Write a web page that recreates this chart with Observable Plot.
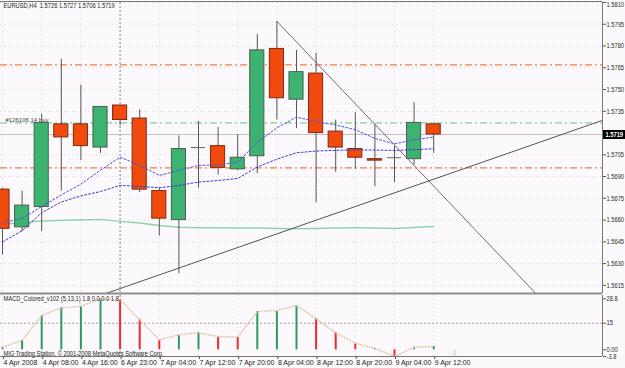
<!DOCTYPE html>
<html><head><meta charset="utf-8">
<script src="https://cdn.jsdelivr.net/npm/d3@7"></script>
<script src="https://cdn.jsdelivr.net/npm/@observablehq/plot@0.6"></script>
<style>
html,body{margin:0;padding:0;background:#fcf9fc;}
#chart{position:relative;width:625px;height:368px;overflow:hidden;background:#fcf9fc;}
#main,#macd{position:absolute;left:0;}
#main{top:0}
#macd{top:293px}
svg{display:block;overflow:visible}
</style></head>
<body><div id="chart"><div id="main"></div><div id="macd"></div></div>
<script>
// ---------- data ----------
const symbol = "EURUSD,H4";
const labelBars = [0, 2, 4, 6, 8, 10, 12, 14, 16, 18, 20, 22];
const timeLabels = ["4 Apr 2008", "4 Apr 08:00", "4 Apr 16:00", "6 Apr 23:00", "7 Apr 04:00", "7 Apr 12:00",
                    "7 Apr 20:00", "8 Apr 04:00", "8 Apr 12:00", "8 Apr 20:00", "9 Apr 04:00", "9 Apr 12:00"];
const open  = [1.5681,1.5655,1.5669,1.5726,1.5726,1.5710,1.5739,1.5730,1.5680,1.5660,1.5710,1.5711,1.5695,1.5704,1.5778,1.5743,1.5761,1.5721,1.5709,1.5702,1.5703,1.5702,1.5726];
const high  = [1.5682,1.5680,1.5733,1.5771,1.5753,1.5738,1.5739,1.5736,1.5682,1.5718,1.5728,1.5724,1.5719,1.5788,1.5797,1.5777,1.5775,1.5729,1.5734,1.5726,1.5711,1.5741,1.5727];
const low   = [1.5636,1.5652,1.5652,1.5680,1.5701,1.5706,1.5725,1.5679,1.5649,1.5623,1.5682,1.5691,1.5694,1.5692,1.5729,1.5723,1.5672,1.5693,1.5695,1.5683,1.5686,1.5698,1.5706];
const close = [1.5654,1.5670,1.5727,1.5717,1.5711,1.5738,1.5729,1.5681,1.5661,1.5709,1.5710,1.5696,1.5703,1.5777,1.5744,1.5762,1.5720,1.5710,1.5703,1.5701,1.5703,1.5727,1.5719];
const maFast = [1.56582,1.56611,1.56694,1.56773,1.56848,1.56944,1.57034,1.56977,1.56908,1.56942,1.56977,1.56980,1.56999,1.57136,1.57236,1.57310,1.57278,1.57256,1.57223,1.57163,1.57126,1.57154,1.57172];
const maMid  = [1.56449,1.56527,1.56651,1.56725,1.56767,1.56797,1.56839,1.56832,1.56823,1.56839,1.56862,1.56873,1.56887,1.56966,1.57020,1.57064,1.57076,1.57081,1.57084,1.57083,1.57080,1.57085,1.57092];
const maSlow = [1.56570,1.56584,1.56594,1.56598,1.56601,1.56605,1.56591,1.56580,1.56563,1.56551,1.56547,1.56547,1.56546,1.56546,1.56542,1.56540,1.56542,1.56546,1.56547,1.56546,1.56542,1.56549,1.56556];
const macd   = [1.5,5.3,19.4,23.7,24.6,28.8,28.3,17.0,5.6,8.5,9.6,7.5,7.1,21.6,22.2,25.0,17.5,9.6,3.7,0.8,-3.8,1.5,1.8];
const priceTicks = [1.5810,1.5795,1.5780,1.5765,1.5750,1.5735,1.5705,1.5690,1.5675,1.5660,1.5645,1.5630,1.5615];
const priceDomain = [1.56094, 1.5810];
const barDomain = [-0.102, 30.612];
const macdDomain = [-3.78, 30.66];
const macdTicks = [28.8, 15, 0, -3.8];
const macdTickLabels = ["28.8", "15", "0.00", "-3.8"];
const macdLevel = [15];
const orangeLevels = [1.5767, 1.5696];
const buyLevel = 1.5727;
const buyLabel = "#126106 14 buy";
const separatorBar = [6];
const trendDown = [{bar: 14, price: 1.5797}, {bar: 28, price: 1.55982}];
const trendUp = [{bar: 5, price: 1.56081}, {bar: 31, price: 1.57306}];
const macdTitle = "MACD_Colored_v102 (5,13,1) 1.8 0.0 0.0 1.8";
const copyright = "MIG Trading Station, \u00a9 2001-2008 MetaQuotes Software Corp.";
const ghostLabel = [{bar: 23, value: -1.5, text: "-3"}];

// ---------- build ----------
const FONT = "'Liberation Sans', Arial, sans-serif";
const n = open.length;
const last = n - 1;
const candles = d3.range(n).map(i => ({i, o: open[i], h: high[i], l: low[i], c: close[i]}));
const bodies = candles.filter(d => d.o !== d.c);
const dojis = candles.filter(d => d.o === d.c);
const HW = 0.36;
const ma = (arr) => arr.map((v, i) => ({i, v}));
const title = `${symbol}  ${[open[last], high[last], low[last], close[last]].map(v => v.toFixed(4)).join(" ")}`;
const pxPerBar = 602 / (barDomain[1] - barDomain[0]);
const dashDot = "7,3,2,3";

const main = Plot.plot({
  width: 625, height: 295,
  marginLeft: 0, marginRight: 23, marginTop: 2, marginBottom: 2,
  style: {background: "none", fontFamily: FONT, fontSize: "7px", color: "#2a2a2a"},
  x: {domain: barDomain, axis: null},
  y: {domain: priceDomain, axis: null},
  marks: [
    Plot.gridY(priceTicks, {stroke: "#dcd2dc", strokeOpacity: 1, strokeDasharray: "1,3"}),
    Plot.gridX(labelBars, {stroke: "#dcd2dc", strokeOpacity: 1, strokeDasharray: "1,3"}),
    Plot.ruleY(orangeLevels, {stroke: "#fa7a48", strokeDasharray: dashDot, strokeWidth: 1.2}),
    Plot.ruleY([buyLevel], {stroke: "#a6dbb4", strokeDasharray: dashDot, strokeWidth: 1.6}),
    Plot.ruleY([close[last]], {stroke: "#c4c0c4"}),
    Plot.ruleX(separatorBar, {stroke: "#a8a8a8", strokeDasharray: "2,2", strokeWidth: 1.5}),
    Plot.line(ma(maSlow), {x: "i", y: "v", stroke: "#8ed3a8", strokeWidth: 1.4}),
    Plot.ruleX(candles, {x: "i", y1: "l", y2: "h", stroke: "#555", clip: true}),
    Plot.rect(bodies, {x1: d => d.i - HW, x2: d => d.i + HW, y1: "o", y2: "c",
      fill: d => d.c > d.o ? "#3cb371" : "#f04a0e",
      stroke: d => d.c > d.o ? "#4b5e50" : "#7e2a10", strokeWidth: 1, clip: true}),
    Plot.ruleY(dojis, {y: "o", x1: d => d.i - HW, x2: d => d.i + HW, stroke: "#666"}),
    Plot.line(ma(maFast), {x: "i", y: "v", stroke: "#5050e0", strokeDasharray: "2,2", strokeWidth: 1}),
    Plot.line(ma(maMid), {x: "i", y: "v", stroke: "#3a3ad8", strokeDasharray: "2,2", strokeWidth: 1}),
    Plot.line(trendDown, {x: "bar", y: "price", stroke: "#6e6e6e", strokeWidth: 1, clip: true}),
    Plot.line(trendUp, {x: "bar", y: "price", stroke: "#555", strokeWidth: 1, clip: true}),
    Plot.text([buyLabel], {y: buyLevel, frameAnchor: "left", textAnchor: "start", lineAnchor: "bottom",
      dx: 5, dy: -1, fontSize: 6, fill: "#444"}),
    Plot.text([title], {frameAnchor: "top-left", textAnchor: "start", lineAnchor: "top", dx: 3, dy: 1,
      fontSize: 7, fill: "#1e1e1e"}),
    Plot.axisY(priceTicks, {anchor: "right", tickSize: 3, tickPadding: 1, tickFormat: d => d.toFixed(4),
      fontSize: 7, stroke: "#555", fill: "#2a2a2a"}),
    Plot.ruleY([close[last]], {x1: barDomain[1], x2: barDomain[1] + 23 / pxPerBar, stroke: "#000", strokeWidth: 9}),
    Plot.text([close[last]], {y: d => d, frameAnchor: "right", textAnchor: "start", dx: 3,
      text: d => d.toFixed(4), fill: "#fff", fontSize: 7, fontWeight: "bold"}),
    Plot.ruleX([barDomain[1]], {stroke: "#777"}),
    Plot.ruleY([priceDomain[1]], {stroke: "#777", dy: -1}),
    Plot.ruleY([priceDomain[0]], {stroke: "#8c8c8c", strokeWidth: 2})
  ]
});
document.getElementById("main").appendChild(main);

const macdData = macd.map((v, i) => ({i, v, up: i === 0 || v >= macd[i - 1]}));
const sub = Plot.plot({
  width: 625, height: 75,
  marginLeft: 0, marginRight: 23, marginTop: 2, marginBottom: 12,
  style: {background: "none", fontFamily: FONT, fontSize: "7px", color: "#2a2a2a"},
  x: {domain: barDomain, axis: null},
  y: {domain: macdDomain, axis: null},
  marks: [
    Plot.gridX(labelBars, {stroke: "#dcd2dc", strokeOpacity: 1, strokeDasharray: "1,3"}),
    Plot.ruleY(macdLevel, {stroke: "#a89c9c", strokeDasharray: "2,2"}),
    Plot.ruleX(separatorBar, {stroke: "#a8a8a8", strokeDasharray: "2,2", strokeWidth: 1.5}),
    Plot.ruleX(macdData, {x: "i", y1: 0, y2: "v", stroke: d => d.up ? "#2f9a5e" : "#f22a2a", strokeWidth: 2}),
    Plot.line(macdData, {x: "i", y: "v", stroke: "#e2c9ae", strokeDasharray: "1,2"}),
    Plot.text(ghostLabel, {x: "bar", y: "value", text: "text", fill: "#c4c4c4", fontSize: 7}),
    Plot.text([macdTitle], {frameAnchor: "top-left", textAnchor: "start", lineAnchor: "top", dx: 3, dy: 1,
      fontSize: 7, fill: "#1e1e1e"}),
    Plot.text([copyright], {frameAnchor: "bottom-left", textAnchor: "start", lineAnchor: "bottom", dx: 3, dy: -1,
      fontSize: 7, fill: "#1e1e1e"}),
    Plot.axisY(macdTicks, {anchor: "right", tickSize: 3, tickPadding: 1,
      tickFormat: d => macdTickLabels[macdTicks.indexOf(d)], fontSize: 7, stroke: "#555", fill: "#2a2a2a"}),
    Plot.axisX(labelBars, {anchor: "bottom", tickSize: 3, tickPadding: 1, textAnchor: "start", dx: 1,
      tickFormat: d => timeLabels[labelBars.indexOf(d)], fontSize: 7, stroke: "#444", fill: "#1e1e1e"}),
    Plot.ruleX([barDomain[1]], {stroke: "#777"}),
    Plot.ruleY([macdDomain[0]], {stroke: "#777"})
  ]
});
document.getElementById("macd").appendChild(sub);

// MT4 draws these labels in a narrow face: squeeze them horizontally about their start point
const SQUEEZE = 0.82;
function squeeze(svg, skip) {
  svg.querySelectorAll("text").forEach(t => {
    if (skip(t)) return;
    const x = +(t.getAttribute("x") || 0);
    const prev = t.getAttribute("transform") || "";
    t.setAttribute("transform", `${prev} translate(${x},0) scale(${SQUEEZE},1) translate(${-x},0)`.trim());
  });
}
squeeze(main, t => t.textContent === buyLabel);
squeeze(sub, t => !!t.closest('g[aria-label="x-axis tick label"]') || t.textContent === "-3");

// keep the topmost price label fully inside the picture
const topLabel = priceTicks[0].toFixed(4);
main.querySelectorAll('g[aria-label="y-axis tick label"] text').forEach(t => {
  if (t.textContent === topLabel) t.setAttribute("transform", `translate(0,2.5) ${t.getAttribute("transform") || ""}`.trim());
});
</script></body></html>
